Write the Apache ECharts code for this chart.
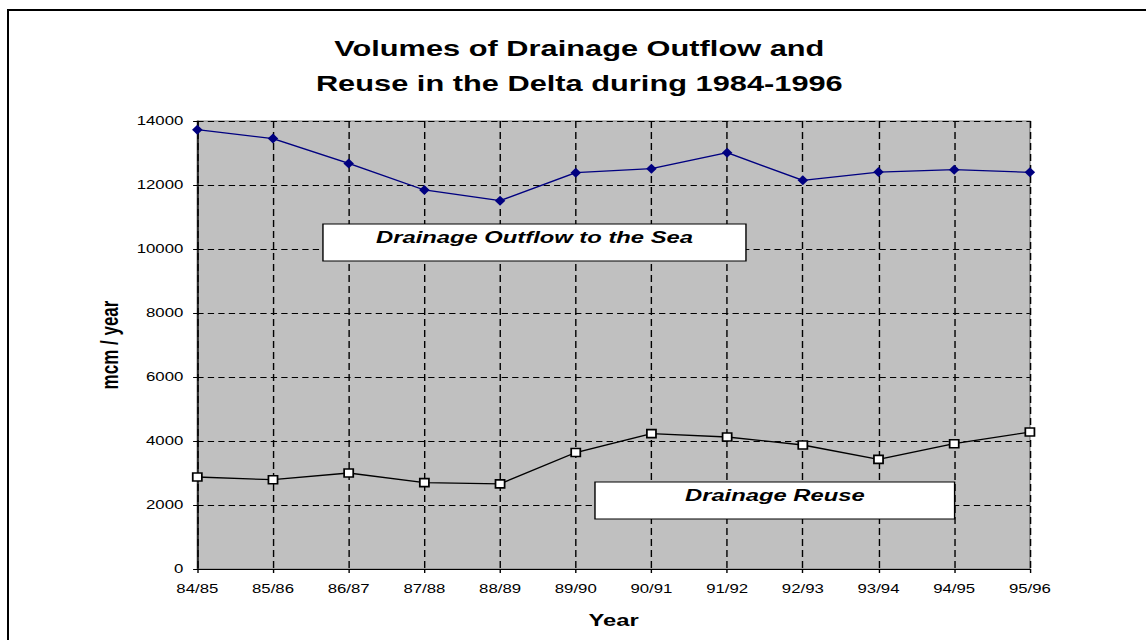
<!DOCTYPE html>
<html>
<head>
<meta charset="utf-8">
<title>Drainage Outflow and Reuse</title>
<script src="https://cdn.jsdelivr.net/npm/echarts@6/dist/echarts.min.js"></script>
<style>
    html, body { margin: 0; padding: 0; background: #fff; overflow: hidden; }
    #frame {
        position: absolute; left: 7px; top: 9px; width: 1200px; height: 700px;
        border-left: 2px solid #000; border-top: 2px solid #000;
    }
    /* the original picture is stretched sideways, so the chart is drawn narrow and widened */
    #chart {
        position: absolute; left: 0; top: 0; width: 819px; height: 640px;
        transform: scaleX(1.3993); transform-origin: 0 0;
    }
</style>
</head>
<body>
<div id="frame"></div>
<div id="chart"></div>
<script>
    let years = ['84/85', '85/86', '86/87', '87/88', '88/89', '89/90',
        '90/91', '91/92', '92/93', '93/94', '94/95', '95/96'];
    let outflow = [13730, 13450, 12675, 11845, 11510, 12385, 12510, 13010, 12145, 12405, 12480, 12395];
    let reuse = [2875, 2790, 3000, 2700, 2660, 3640, 4230, 4125, 3875, 3425, 3915, 4280];

    let font = '"Liberation Sans", Arial, sans-serif';

    let label_box = function (x, y, w, h, text) {
        return [
            {
                type: 'rect',
                z: 100,
                shape: {x: x, y: y, width: w, height: h},
                style: {fill: '#fff', stroke: '#000', lineWidth: 1}
            },
            {
                type: 'text',
                z: 101,
                x: x + w / 2,
                y: y + 13,
                style: {
                    text: text,
                    font: 'italic bold 17px ' + font,
                    align: 'center',
                    verticalAlign: 'middle',
                    fill: '#000'
                }
            }
        ];
    };

    let chart = echarts.init(document.getElementById('chart'), null, {renderer: 'svg'});
    let option = {
        animation: false,
        grid: {
            left: 141,
            right: 83,
            top: 121,
            bottom: 71,
            show: true,
            backgroundColor: '#c0c0c0',
            borderColor: '#808080',
            borderWidth: 1
        },
        xAxis: {
            type: 'category',
            data: years,
            boundaryGap: false,
            name: 'Year',
            nameLocation: 'middle',
            nameGap: 42,
            nameTextStyle: {fontFamily: font, fontWeight: 'bold', fontSize: 17, color: '#000'},
            axisLine: {lineStyle: {color: '#000', width: 1}},
            axisTick: {show: true, length: 4, lineStyle: {color: '#000'}},
            axisLabel: {margin: 14, fontFamily: font, fontSize: 12, color: '#000'},
            splitLine: {show: true, lineStyle: {color: '#000', type: [7, 4], width: 1}}
        },
        yAxis: {
            type: 'value',
            min: 0,
            max: 14000,
            interval: 2000,
            name: 'mcm / year',
            nameLocation: 'middle',
            nameGap: 54,
            nameTextStyle: {fontFamily: font, fontWeight: 'bold', fontSize: 17, color: '#000'},
            axisLine: {show: true, lineStyle: {color: '#000', width: 1}},
            axisTick: {show: true, length: 3, lineStyle: {color: '#000'}},
            axisLabel: {
                margin: 10, fontFamily: font, fontSize: 12, color: '#000',
                formatter: function (v) {
                    return String(v);
                }
            },
            splitLine: {show: true, lineStyle: {color: '#000', type: [4.5, 3], width: 1}}
        },
        series: [
            {
                name: 'Drainage Outflow to the Sea',
                type: 'line',
                data: outflow,
                symbol: 'diamond',
                symbolSize: [7.5, 10],
                itemStyle: {color: '#000080'},
                lineStyle: {color: '#000080', width: 1.3}
            },
            {
                name: 'Drainage Reuse',
                type: 'line',
                data: reuse,
                symbol: 'rect',
                symbolSize: [6.5, 8],
                itemStyle: {color: '#fff', borderColor: '#000', borderWidth: 1.4},
                lineStyle: {color: '#000', width: 1.3}
            }
        ],
        graphic: [
            {
                type: 'text',
                x: 414,
                y: 66,
                style: {
                    text: 'Volumes of Drainage Outflow and\nReuse in the Delta during 1984-1996',
                    font: 'bold 22px ' + font,
                    lineHeight: 35,
                    align: 'center',
                    verticalAlign: 'middle',
                    fill: '#000'
                }
            }
        ].concat(
            label_box(230.8, 224, 302.3, 37, 'Drainage Outflow to the Sea'),
            label_box(425.2, 482, 257, 37, 'Drainage Reuse')
        )
    };
    chart.setOption(option);
</script>
</body>
</html>
